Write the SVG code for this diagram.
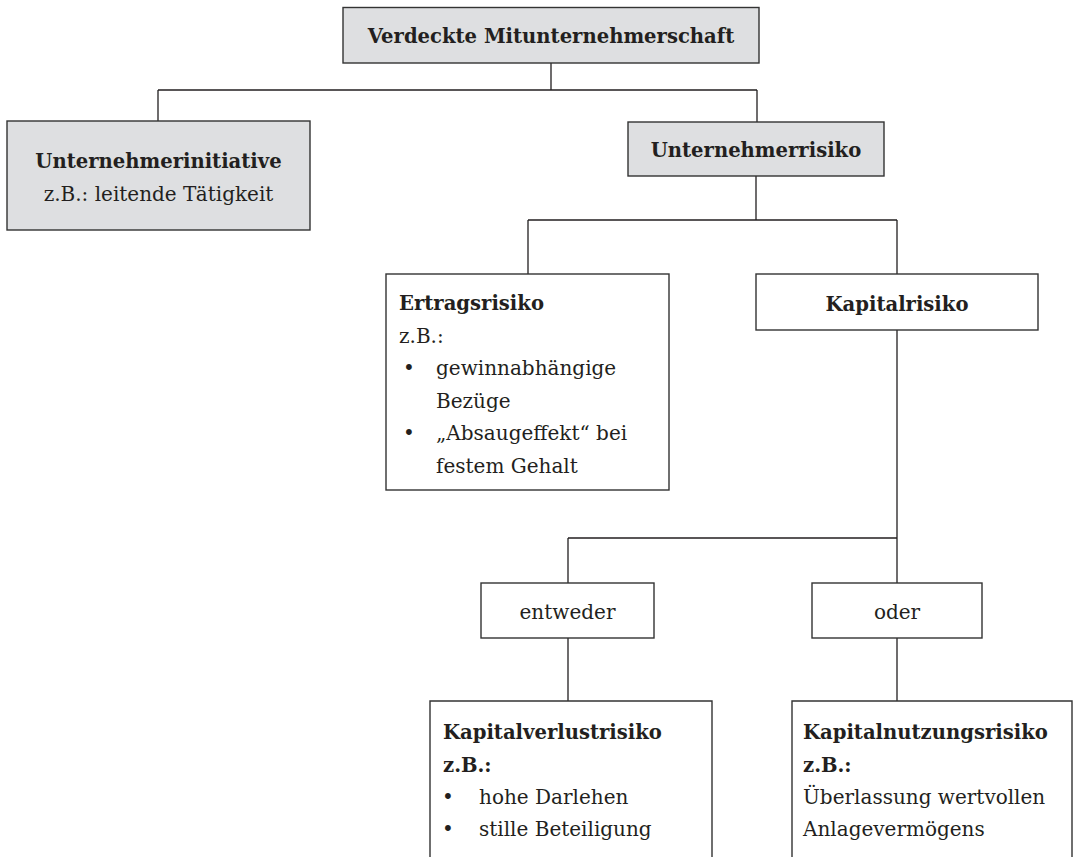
<svg xmlns="http://www.w3.org/2000/svg" width="1087" height="857" viewBox="0 0 1087 857">
<style>
text{font-family:"DejaVu Serif","Liberation Serif",serif;fill:#231f20;font-size:20px}
.b{font-weight:bold;font-size:19.6px}
.c{text-anchor:middle}
.box{fill:#ffffff;stroke:#333333;stroke-width:1.4}
.gray{fill:#dedfe1;stroke:#333333;stroke-width:1.4}
.ln{fill:none;stroke:#231f20;stroke-width:1.3}
</style>
<rect width="1087" height="857" fill="#ffffff"/>
<g id="connectors">
<path class="ln" d="M551,63 V90 M158,90 H757 M158,90 V121 M757,90 V122"/>
<path class="ln" d="M756,176 V220 M528,220 H897 M528,220 V274 M897,220 V274"/>
<path class="ln" d="M897,330 V538 M568,538 H897 M568,538 V583 M897,538 V583"/>
<path class="ln" d="M568,638 V701 M897,638 V701"/>
</g>
<g id="n-verdeckte">
<rect class="gray" x="343" y="7.5" width="416" height="55.5"/>
<text class="b c" x="551" y="43">Verdeckte Mitunternehmerschaft</text>
</g>
<g id="n-initiative">
<rect class="gray" x="7" y="121" width="303" height="109"/>
<text class="b c" x="158.5" y="168">Unternehmerinitiative</text>
<text class="c" x="158.5" y="201">z.B.: leitende Tätigkeit</text>
</g>
<g id="n-risiko">
<rect class="gray" x="628" y="122" width="256" height="54"/>
<text class="b c" x="756" y="157">Unternehmerrisiko</text>
</g>
<g id="n-ertrag">
<rect class="box" x="386" y="274" width="283" height="216"/>
<text class="b" x="399" y="310">Ertragsrisiko</text>
<text x="399" y="343">z.B.:</text>
<text class="c" x="409" y="375">•</text>
<text x="436" y="375">gewinnabhängige</text>
<text x="436" y="408">Bezüge</text>
<text class="c" x="409" y="440">•</text>
<text x="436" y="440">„Absaugeffekt“ bei</text>
<text x="436" y="473">festem Gehalt</text>
</g>
<g id="n-kapital">
<rect class="box" x="756" y="274" width="282" height="56"/>
<text class="b c" x="897" y="311">Kapitalrisiko</text>
</g>
<g id="n-entweder">
<rect class="box" x="481" y="583" width="173" height="55"/>
<text class="c" x="567.5" y="619">entweder</text>
</g>
<g id="n-oder">
<rect class="box" x="812" y="583" width="170" height="55"/>
<text class="c" x="897" y="619">oder</text>
</g>
<g id="n-verlust">
<path class="box" d="M430,860 V701 H712 V860"/>
<text class="b" x="443" y="739">Kapitalverlustrisiko</text>
<text class="b" x="443" y="772">z.B.:</text>
<text class="c" x="448" y="804">•</text>
<text x="479" y="804">hohe Darlehen</text>
<text class="c" x="448" y="836">•</text>
<text x="479" y="836">stille Beteiligung</text>
</g>
<g id="n-nutzung">
<path class="box" d="M792,860 V701 H1072 V860"/>
<text class="b" x="803" y="739">Kapitalnutzungsrisiko</text>
<text class="b" x="803" y="772">z.B.:</text>
<text x="803" y="804">Überlassung wertvollen</text>
<text x="803" y="836">Anlagevermögens</text>
</g>
</svg>
